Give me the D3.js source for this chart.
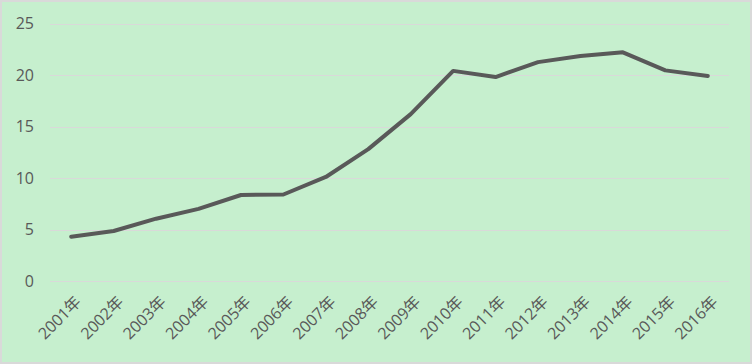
<!DOCTYPE html>
<html>
<head>
<meta charset="utf-8">
<script src="https://cdn.jsdelivr.net/npm/d3@7"></script>
<style>
html,body{margin:0;padding:0;background:#fff;}
svg{display:block;}
</style>
</head>
<body>
<svg id="chart" width="752" height="364"></svg>
<script>
const categories = ["2001年","2002年","2003年","2004年","2005年","2006年","2007年","2008年","2009年","2010年","2011年","2012年","2013年","2014年","2015年","2016年"];
const values = [4.3, 4.85, 6.05, 7.0, 8.35, 8.4, 10.1, 12.8, 16.2, 20.4, 19.8, 21.25, 21.85, 22.2, 20.45, 19.9];
const yTicks = [0, 5, 10, 15, 20, 25];

(function(){
const W = 752, H = 364;
const svg = d3.select("#chart");
const font = "'Open Sans', 'Noto Sans CJK SC', sans-serif";

svg.append("rect").attr("x",1).attr("y",1).attr("width",W-2).attr("height",H-2)
  .attr("fill","#C6EFCE").attr("stroke","#D9D9D9").attr("stroke-width",2);

const mL = 50, mR = 729, mT = 23.5, mB = 281;
const x = d3.scaleBand().domain(categories).range([mL, mR]);
const y = d3.scaleLinear().domain([0, 25]).range([mB, mT]);

const grid = svg.append("g");
grid.selectAll("line").data(yTicks).enter().append("line")
  .attr("x1", mL).attr("x2", mR)
  .attr("y1", d => Math.round(y(d)) + 0.5).attr("y2", d => Math.round(y(d)) + 0.5)
  .attr("stroke", "#D9D9D9").attr("stroke-width", 1);

const yAxis = svg.append("g").attr("transform", `translate(${mL},0)`)
  .call(d3.axisLeft(y).tickValues(yTicks).tickSize(0).tickPadding(16));
yAxis.select(".domain").remove();
yAxis.selectAll("text").attr("fill","#595959").style("font-family",font).style("font-size","16px");

const xAxis = svg.append("g").attr("transform", `translate(0,${mB})`)
  .call(d3.axisBottom(x).tickSize(0).tickFormat(""));
xAxis.select(".domain").remove();
xAxis.selectAll(".tick").each(function(d){
  const g = d3.select(this).append("g").attr("transform","translate(7,18) rotate(-45)");
  g.append("text")
    .attr("x",0).attr("y",0).attr("dy","0.35em")
    .attr("text-anchor","end")
    .attr("fill","#595959")
    .style("font-family",font).style("font-size","16px")
    .text(d);
});

const line = d3.line()
  .x((d,i) => x(categories[i]) + x.bandwidth()/2)
  .y(d => y(d));

svg.append("path").datum(values)
  .attr("d", line)
  .attr("fill","none")
  .attr("stroke","#595959")
  .attr("stroke-width",4)
  .attr("stroke-linejoin","round")
  .attr("stroke-linecap","round");
})();
</script>
</body>
</html>
